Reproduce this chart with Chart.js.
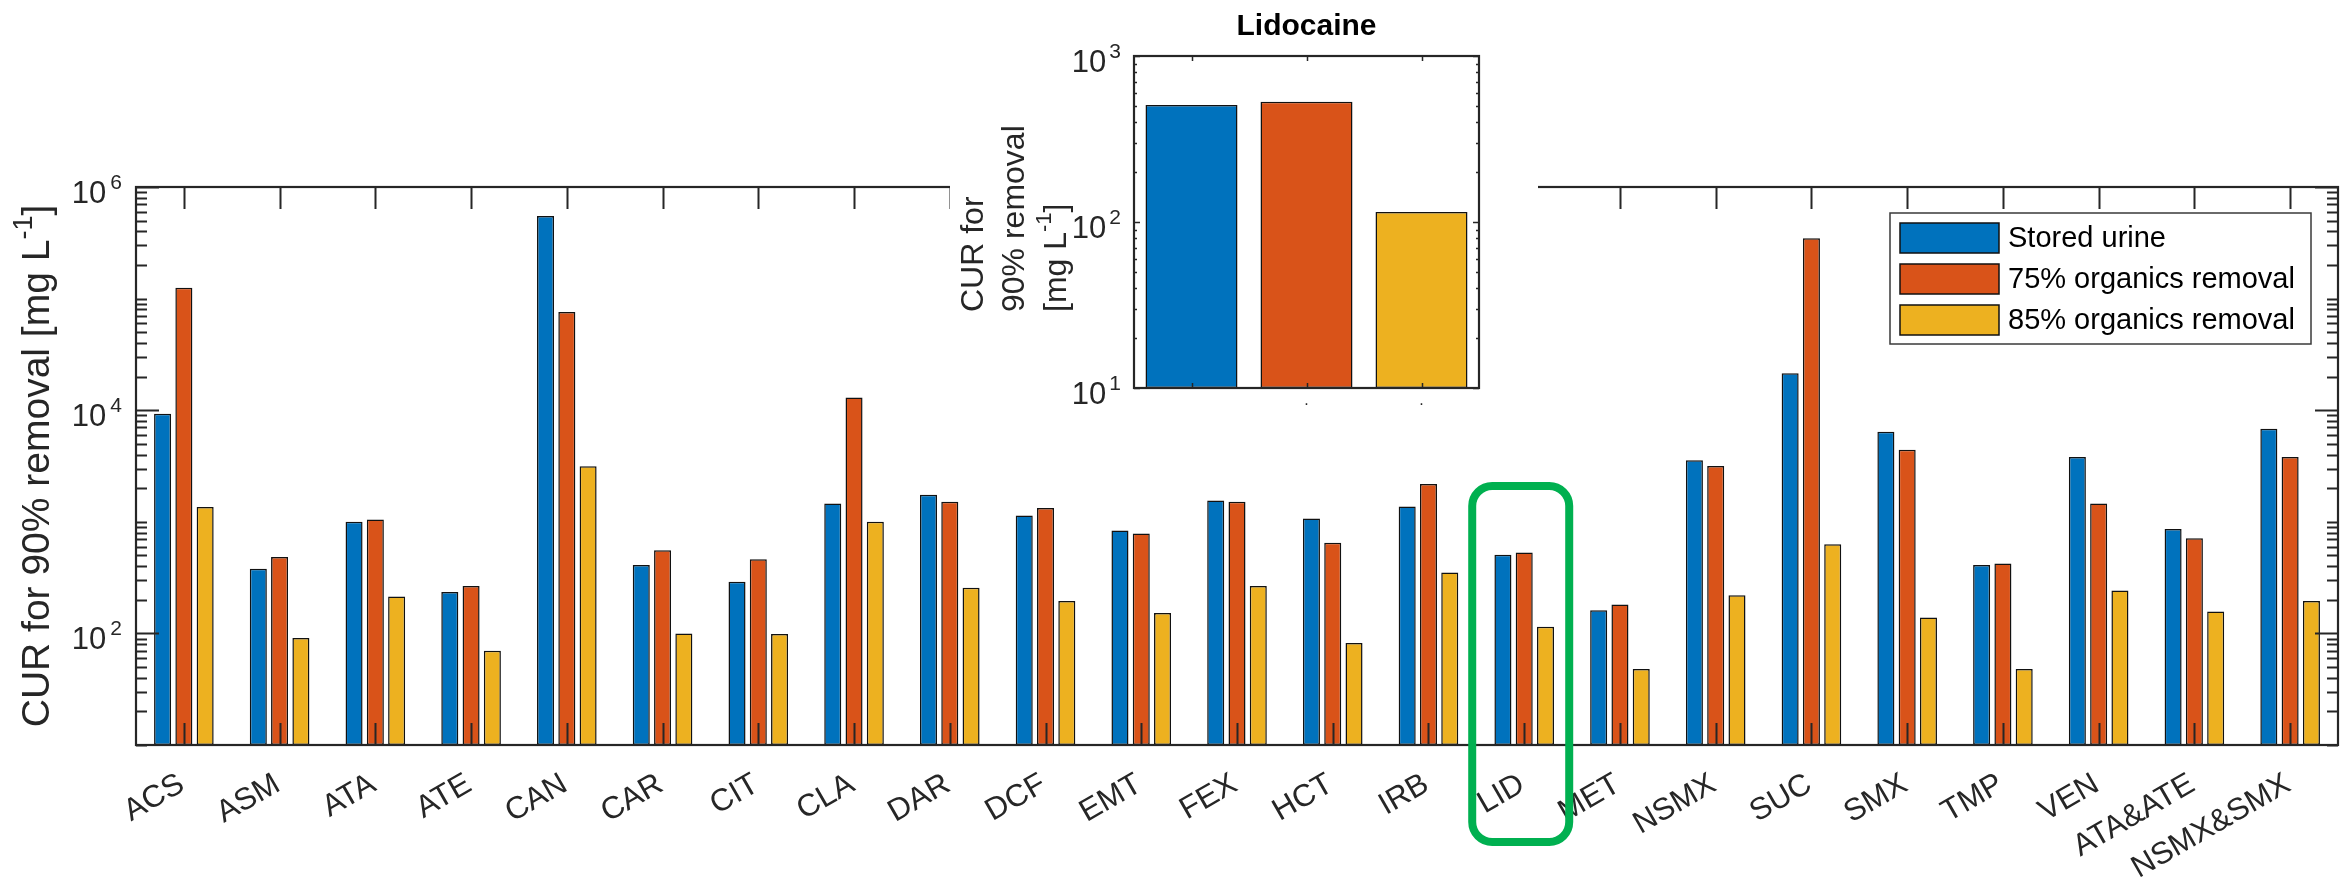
<!DOCTYPE html>
<html>
<head>
<meta charset="utf-8">
<script src="https://cdn.jsdelivr.net/npm/chart.js@4.4.1/dist/chart.umd.min.js"></script>
<style>
  html, body { margin: 0; padding: 0; background: #ffffff; }
  #wrap { position: relative; width: 2348px; height: 883px; overflow: hidden; }
  #main { position: absolute; left: 0; top: 0; }
  #inset { position: absolute; left: 950px; top: 0; background: #ffffff; }
</style>
</head>
<body>
<div id="wrap">
  <canvas id="main" width="2348" height="883"></canvas>
  <canvas id="inset" width="588" height="440"></canvas>
</div>
<script>
// Compounds on the x axis
const categories = ['ACS', 'ASM', 'ATA', 'ATE', 'CAN', 'CAR', 'CIT', 'CLA', 'DAR', 'DCF', 'EMT', 'FEX',
  'HCT', 'IRB', 'LID', 'MET', 'NSMX', 'SUC', 'SMX', 'TMP', 'VEN', 'ATA&ATE', 'NSMX&SMX'];

// CUR for 90 % removal [mg/L], one value per compound
const storedUrine       = [9300, 380, 1000, 235, 550000, 410, 291, 1455, 1750, 1137, 835, 1550,
  1070, 1370, 507, 161, 3560, 21400, 6400, 410, 3800, 860, 6830];
const organicsRemoval75 = [125000, 483, 1050, 266, 76000, 555, 462, 13000, 1510, 1330, 785, 1510,
  650, 2185, 530, 182, 3160, 347000, 4420, 423, 1455, 714, 3800];
const organicsRemoval85 = [1360, 91, 214, 70, 3150, 100, 99, 1000, 257, 195, 152, 266,
  82, 352, 115, 48, 220, 630, 139, 48, 242, 157, 195];

const seriesLabels = ['Stored urine', '75% organics removal', '85% organics removal'];
const seriesColors = ['#0072BD', '#D95319', '#EDB120'];

// Labelled decades on the two log axes
const mainYExponents = [2, 4, 6];
const insetYExponents = [1, 2, 3];
const insetTickLabels = ['', '.', '.'];

const highlightCategory = 'LID';
const insetTitle = 'Lidocaine';

const FONT = "'Liberation Sans', Arial, Helvetica, sans-serif";
const INK = '#262626';

// Draws a run of [text, size, raise] pieces left to right starting at x
function drawPieces(ctx, pieces, x, y) {
  let cx = x;
  for (const [txt, size, raise, weight] of pieces) {
    ctx.font = (weight || 'normal') + ' ' + size + 'px ' + FONT;
    ctx.fillText(txt, cx, y - raise);
    cx += ctx.measureText(txt).width;
  }
  return cx - x;
}
function piecesWidth(ctx, pieces) {
  let w = 0;
  for (const [txt, size, raise, weight] of pieces) {
    ctx.font = (weight || 'normal') + ' ' + size + 'px ' + FONT;
    w += ctx.measureText(txt).width;
  }
  return w;
}

// Box, inward ticks on all four sides, and 10^n labels for a log y axis
function drawFrame(chart, cfg) {
  const { ctx, chartArea: a, scales: { x, y } } = chart;
  ctx.save();
  ctx.strokeStyle = INK;
  ctx.lineWidth = cfg.tickWidth;
  ctx.beginPath();
  const minE = Math.round(Math.log10(y.min));
  const maxE = Math.round(Math.log10(y.max));
  for (let e = minE; e <= maxE; e++) {
    for (let k = 1; k < 10; k++) {
      if (e === maxE && k > 1) break;
      const v = k * Math.pow(10, e);
      const py = Math.round(y.getPixelForValue(v)) + 0.5;
      const major = k === 1 && cfg.majors.includes(e);
      const len = major ? cfg.majorLen : cfg.minorLen;
      ctx.moveTo(a.left, py); ctx.lineTo(a.left + len, py);
      ctx.moveTo(a.right, py); ctx.lineTo(a.right - len, py);
    }
  }
  for (let i = 0; i < chart.data.labels.length; i++) {
    const px = Math.round(x.getPixelForValue(i)) + 0.5;
    ctx.moveTo(px, a.top); ctx.lineTo(px, a.top + cfg.xLen);
    ctx.moveTo(px, a.bottom); ctx.lineTo(px, a.bottom - cfg.xLen);
  }
  ctx.stroke();
  ctx.lineWidth = cfg.boxWidth;
  ctx.strokeRect(a.left, a.top, a.right - a.left, a.bottom - a.top);

  // 10^n tick labels
  ctx.fillStyle = INK;
  ctx.textBaseline = 'alphabetic';
  ctx.textAlign = 'left';
  for (const e of cfg.majors) {
    const py = y.getPixelForValue(Math.pow(10, e));
    const base = [['10', cfg.labelSize, 0]];
    const sup = [[String(e), cfg.expSize, cfg.expRaise]];
    const ws = piecesWidth(ctx, sup);
    const wb = piecesWidth(ctx, base);
    drawPieces(ctx, sup, cfg.labelRight - ws, py + cfg.labelDrop);
    drawPieces(ctx, base, cfg.labelRight - ws - cfg.expGap - wb, py + cfg.labelDrop);
  }
  ctx.restore();
}

// Rotated (reading upwards) line of text pieces, anchored by alignment
function drawVertical(ctx, pieces, cx, cy, align) {
  ctx.save();
  ctx.translate(cx, cy);
  ctx.rotate(-Math.PI / 2);
  ctx.fillStyle = INK;
  ctx.textAlign = 'left';
  ctx.textBaseline = 'middle';
  const w = piecesWidth(ctx, pieces);
  const start = align === 'center' ? -w / 2 : 0;
  drawPieces(ctx, pieces, start, 0);
  ctx.restore();
}

const mainDecor = {
  id: 'mainDecor',
  afterDraw(chart) {
    const { ctx, scales: { x } } = chart;
    drawFrame(chart, {
      majors: mainYExponents, majorLen: 23, minorLen: 11, xLen: 22,
      tickWidth: 2, boxWidth: 2.2,
      labelSize: 31, expSize: 21, expRaise: 14, expGap: 4, labelRight: 122, labelDrop: 16
    });

    // y axis title
    drawVertical(ctx, [
      ['CUR for 90% removal [mg L', 39, 0], ['-1', 27, 14], [']', 39, 0]
    ], 38.5, 466, 'center');

    // legend
    ctx.save();
    const lx = 1890, ly = 213, lw = 421, lh = 131;
    ctx.fillStyle = '#ffffff';
    ctx.fillRect(lx, ly, lw, lh);
    ctx.strokeStyle = '#3a3a3a';
    ctx.lineWidth = 1.5;
    ctx.strokeRect(lx, ly, lw, lh);
    ctx.textAlign = 'left';
    ctx.textBaseline = 'middle';
    ctx.font = '29px ' + FONT;
    seriesLabels.forEach((name, i) => {
      const ry = 223 + i * 41;
      ctx.fillStyle = seriesColors[i];
      ctx.fillRect(1900, ry, 99, 30);
      ctx.strokeStyle = '#111111';
      ctx.lineWidth = 1.5;
      ctx.strokeRect(1900, ry, 99, 30);
      ctx.fillStyle = '#000000';
      ctx.fillText(name, 2008, ry + 16);
    });
    ctx.restore();

    // highlight around the compound shown in the inset
    const hx = x.getPixelForValue(categories.indexOf(highlightCategory)) - 3.5;
    ctx.save();
    ctx.strokeStyle = '#00B050';
    ctx.lineWidth = 8;
    ctx.beginPath();
    ctx.roundRect(hx - 48.5, 486, 97, 356, 20);
    ctx.stroke();
    ctx.restore();
  }
};

new Chart(document.getElementById('main'), {
  type: 'bar',
  data: {
    labels: categories,
    datasets: [storedUrine, organicsRemoval75, organicsRemoval85].map((vals, i) => ({
      label: seriesLabels[i],
      data: vals,
      backgroundColor: seriesColors[i],
      borderColor: '#111111',
      borderWidth: 1.5,
      borderSkipped: false,
      categoryPercentage: 0.667,
      barPercentage: 0.8
    }))
  },
  options: {
    responsive: false,
    animation: false,
    devicePixelRatio: 1,
    layout: { padding: { top: 187, right: 10, left: 0, bottom: 0 } },
    plugins: { legend: { display: false }, tooltip: { enabled: false }, title: { display: false } },
    scales: {
      x: {
        type: 'category',
        offset: true,
        grid: { display: false, drawTicks: false },
        border: { display: false },
        ticks: {
          autoSkip: false, minRotation: 30, maxRotation: 30, padding: 21, labelOffset: -2,
          color: INK, font: { family: FONT, size: 31 }
        },
        afterFit(s) { s.height = 883 - 745; }
      },
      y: {
        type: 'logarithmic',
        min: 10, max: 1e6,
        grid: { display: false, drawTicks: false },
        border: { display: false },
        ticks: { display: false },
        afterFit(s) { s.width = 136; }
      }
    }
  },
  plugins: [mainDecor]
});

// Inset: the highlighted compound on its own log axis
const li = categories.indexOf(highlightCategory);
const insetValues = [storedUrine[li], organicsRemoval75[li], organicsRemoval85[li]];

const insetDecor = {
  id: 'insetDecor',
  afterDraw(chart) {
    const { ctx, chartArea: a } = chart;
    drawFrame(chart, {
      majors: insetYExponents, majorLen: 6, minorLen: 3, xLen: 5,
      tickWidth: 1.5, boxWidth: 2.2,
      labelSize: 31, expSize: 21, expRaise: 14, expGap: 3, labelRight: 171, labelDrop: 16
    });
    // title
    ctx.save();
    ctx.fillStyle = '#000000';
    ctx.font = 'bold 30px ' + FONT;
    ctx.textAlign = 'center';
    ctx.textBaseline = 'middle';
    ctx.fillText(insetTitle, (a.left + a.right) / 2, 27);
    ctx.restore();
    // three-line y title
    drawVertical(ctx, [['CUR for', 32, 0]], 24, 312, 'left');
    drawVertical(ctx, [['90% removal', 32, 0]], 65, 312, 'left');
    drawVertical(ctx, [['[mg L', 32, 0], ['-1', 22, 12], [']', 32, 0]], 107, 312, 'left');
  }
};

new Chart(document.getElementById('inset'), {
  type: 'bar',
  data: {
    labels: insetTickLabels,
    datasets: [{
      label: insetTitle,
      data: insetValues,
      backgroundColor: seriesColors,
      borderColor: '#111111',
      borderWidth: 1.5,
      borderSkipped: false,
      categoryPercentage: 1,
      barPercentage: 0.8
    }]
  },
  options: {
    responsive: false,
    animation: false,
    devicePixelRatio: 1,
    layout: { padding: { top: 56, right: 59, left: 0, bottom: 0 } },
    plugins: { legend: { display: false }, tooltip: { enabled: false }, title: { display: false } },
    scales: {
      x: {
        type: 'category',
        offset: true,
        grid: { display: false, drawTicks: false },
        border: { display: false },
        ticks: { autoSkip: false, maxRotation: 0, padding: 3, color: INK, font: { family: FONT, size: 16 } },
        afterFit(s) { s.height = 440 - 388; }
      },
      y: {
        type: 'logarithmic',
        min: 10, max: 1000,
        grid: { display: false, drawTicks: false },
        border: { display: false },
        ticks: { display: false },
        afterFit(s) { s.width = 184; }
      }
    }
  },
  plugins: [insetDecor]
});
</script>
</body>
</html>
